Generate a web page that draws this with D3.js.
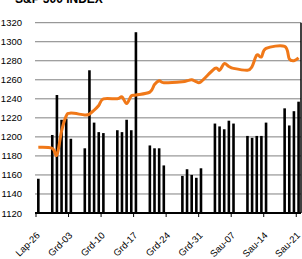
<!DOCTYPE html>
<html>
<head>
<meta charset="utf-8">
<script src="https://cdn.jsdelivr.net/npm/d3@7"></script>
<style>
  body { margin: 0; background: #fff; }
  text { font-family: "Liberation Sans", Arial, sans-serif; }
</style>
</head>
<body>
<div id="renderDiv"></div>
<script>
// trading days, Nov 26 2010 .. Jan 21 2011
const days = ["2010-11-26",
  "2010-11-29", "2010-11-30", "2010-12-01", "2010-12-02", "2010-12-03",
  "2010-12-06", "2010-12-07", "2010-12-08", "2010-12-09", "2010-12-10",
  "2010-12-13", "2010-12-14", "2010-12-15", "2010-12-16", "2010-12-17",
  "2010-12-20", "2010-12-21", "2010-12-22", "2010-12-23",
  "2010-12-27", "2010-12-28", "2010-12-29", "2010-12-30", "2010-12-31",
  "2011-01-03", "2011-01-04", "2011-01-05", "2011-01-06", "2011-01-07",
  "2011-01-10", "2011-01-11", "2011-01-12", "2011-01-13", "2011-01-14",
  "2011-01-18", "2011-01-19", "2011-01-20", "2011-01-21"];
// index close (orange line)
const closes = [1189,
  1188, 1181, 1206, 1222, 1225,
  1223, 1224, 1228, 1233, 1240,
  1240, 1242, 1235, 1243, 1244,
  1247, 1255, 1259, 1257,
  1258, 1259, 1260, 1258, 1258,
  1272, 1270, 1277, 1274, 1272,
  1270, 1274, 1286, 1284, 1293,
  1295, 1282, 1280, 1283];
// black bars, as read on the same scale
const bars = [1156,
  1202, 1244, 1218, 1219, 1198,
  1188, 1270, 1215, 1205, 1204,
  1207, 1205, 1218, 1207, 1310,
  1191, 1188, 1188, 1170,
  1159, 1166, 1160, 1157, 1167,
  1214, 1211, 1208, 1217, 1214,
  1201, 1199, 1201, 1201, 1215,
  1230, 1212, 1227, 1237];
const tickDays = ["2010-11-26", "2010-12-03", "2010-12-10", "2010-12-17", "2010-12-24",
  "2010-12-31", "2011-01-07", "2011-01-14", "2011-01-21"];
const tickLabels = ["Lap-26", "Grd-03", "Grd-10", "Grd-17", "Grd-24", "Grd-31", "Sau-07", "Sau-14", "Sau-21"];
const yTicks = [1120, 1140, 1160, 1180, 1200, 1220, 1240, 1260, 1280, 1300, 1320];

const W = 302, H = 259;
const parse = d3.utcParse("%Y-%m-%d");
const data = days.map(function (d, i) {
  return { date: parse(d), close: closes[i], bar: bars[i] };
});

const svg = d3.select("#renderDiv").append("svg")
  .attr("width", W).attr("height", H);

let x = d3.scaleUtc()
  .domain([parse("2010-11-26"), parse("2011-01-22")])
  .range([36, 300.9]);
let y = d3.scaleLinear().domain([1120, 1320]).range([213, 22.7]);
const half = (x(parse("2010-11-27")) - x(parse("2010-11-26"))) / 2;

// title (cut off at top)
svg.append("text")
  .attr("x", 15).attr("y", 3)
  .attr("font-size", "12px").attr("font-weight", "bold")
  .attr("fill", "#000")
  .text("S&P 500 INDEX");

// gridlines + y labels
svg.append("g").selectAll("line")
  .data(yTicks.slice(1))
  .enter().append("line")
  .attr("x1", 35).attr("x2", 301)
  .attr("y1", function (d) { return y(d); })
  .attr("y2", function (d) { return y(d); })
  .attr("stroke", "#808080").attr("stroke-width", 1);

svg.append("g").selectAll("text")
  .data(yTicks)
  .enter().append("text")
  .attr("x", 22)
  .attr("y", function (d) { return y(d) + 3.5; })
  .attr("text-anchor", "end")
  .attr("font-size", "9.5px")
  .attr("fill", "#000")
  .text(function (d) { return d; });

// bars
svg.append("g").selectAll("rect")
  .data(data)
  .enter().append("rect")
  .attr("x", function (d) { return x(d.date) + half - 1.3; })
  .attr("width", 2.6)
  .attr("y", function (d) { return y(d.bar); })
  .attr("height", function (d) { return y(1120) - y(d.bar); })
  .attr("fill", "#000");

// right border
svg.append("line")
  .attr("x1", 301).attr("x2", 301).attr("y1", y(1320)).attr("y2", y(1120))
  .attr("stroke", "#000").attr("stroke-width", 1.5);

// x axis
svg.append("line")
  .attr("x1", 35).attr("x2", 301).attr("y1", y(1120)).attr("y2", y(1120))
  .attr("stroke", "#000").attr("stroke-width", 2);

const xt = svg.append("g").selectAll("g")
  .data(tickDays)
  .enter().append("g")
  .attr("transform", function (d) { return "translate(" + x(parse(d)) + ",0)"; });
xt.append("line")
  .attr("y1", y(1120)).attr("y2", y(1120) + 4)
  .attr("stroke", "#000").attr("stroke-width", 1);
xt.append("text")
  .attr("text-anchor", "end")
  .attr("font-size", "9.5px")
  .attr("fill", "#000")
  .attr("transform", "translate(4.5,236) rotate(-45)")
  .text(function (d, i) { return tickLabels[i]; });

// index line
svg.append("clipPath").attr("id", "clip")
  .append("rect").attr("x", 35).attr("y", 0).attr("width", 266).attr("height", 213);
svg.append("path")
  .datum(data)
  .attr("clip-path", "url(#clip)")
  .attr("fill", "none")
  .attr("stroke", "#F07818")
  .attr("stroke-width", 3)
  .attr("stroke-linejoin", "round")
  .attr("d", d3.line()
    .x(function (d) { return x(d.date) + half; })
    .y(function (d) { return y(d.close); })
    .curve(d3.curveCardinal.tension(0)));
</script>
</body>
</html>
